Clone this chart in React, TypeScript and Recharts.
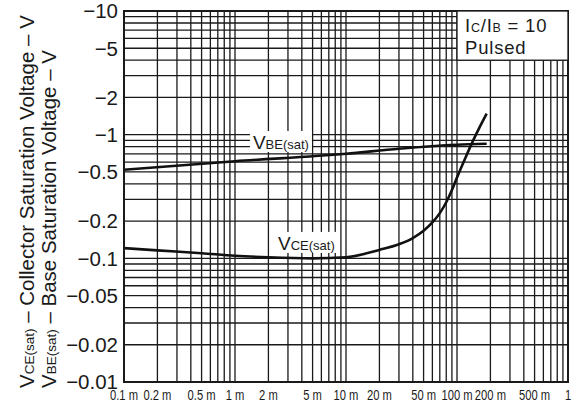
import { LineChart, Line, XAxis, YAxis, CartesianGrid, ReferenceArea, ReferenceDot } from "recharts"

// collector current (A) vs |V| (V)
const vbeCurrent = [0.0001, 0.001, 0.01, 0.03, 0.1, 0.185]
const vbeVoltage = [0.52, 0.61, 0.7, 0.77, 0.83, 0.845]

const vceCurrent = [
  0.0001, 0.0002, 0.0005, 0.001, 0.002, 0.005, 0.01, 0.02, 0.03, 0.04, 0.05, 0.06, 0.07, 0.08, 0.09, 0.1, 0.12,
  0.14, 0.16, 0.185,
]
const vceVoltage = [
  0.121, 0.116, 0.11, 0.105, 0.102, 0.1, 0.102, 0.117, 0.13, 0.146, 0.167, 0.195, 0.232, 0.284, 0.357, 0.451, 0.661,
  0.899, 1.15, 1.48,
]

// grid lines (every log minor division)
const xGrid = [
  0.0001, 0.0002, 0.0003, 0.0004, 0.0005, 0.0006, 0.0007, 0.0008, 0.0009,
  0.001, 0.002, 0.003, 0.004, 0.005, 0.006, 0.007, 0.008, 0.009,
  0.01, 0.02, 0.03, 0.04, 0.05, 0.06, 0.07, 0.08, 0.09,
  0.1, 0.2, 0.3, 0.4, 0.5, 0.6, 0.7, 0.8, 0.9, 1,
]
const yGrid = [
  0.01, 0.02, 0.03, 0.04, 0.05, 0.06, 0.07, 0.08, 0.09,
  0.1, 0.2, 0.3, 0.4, 0.5, 0.6, 0.7, 0.8, 0.9,
  1, 2, 3, 4, 5, 6, 7, 8, 9, 10,
]

const xLabelValues = [0.0001, 0.0002, 0.0005, 0.001, 0.002, 0.005, 0.01, 0.02, 0.05, 0.1, 0.2, 0.5, 1]
const xLabels = ["0.1 m", "0.2 m", "0.5 m", "1 m", "2 m", "5 m", "10 m", "20 m", "50 m", "100 m", "200 m", "500 m", "1"]
const yLabelValues = [0.01, 0.02, 0.05, 0.1, 0.2, 0.5, 1, 2, 5, 10]
const yLabels = ["−0.01", "−0.02", "−0.05", "−0.1", "−0.2", "−0.5", "−1", "−2", "−5", "−10"]

const vbeData = vbeCurrent.map((i, k) => ({ i, v: vbeVoltage[k] }))
const vceData = vceCurrent.map((i, k) => ({ i, v: vceVoltage[k] }))

const FONT = "'Liberation Sans', Arial, Helvetica, sans-serif"
const INK = "#1a1a1a"

function lookup(vals: number[], labels: string[], v: number) {
  const k = vals.findIndex((a) => Math.abs(a - v) / a < 1e-6)
  return k < 0 ? "" : labels[k]
}

function XTick(props: any) {
  const { x, y, payload } = props
  const s = lookup(xLabelValues, xLabels, payload.value)
  if (!s) return null
  return (
    <text
      transform={`translate(${x},${y}) scale(0.8,1)`}
      dy="0.71em"
      textAnchor="middle"
      fontSize={14}
      fontFamily={FONT}
      fill={INK}
    >
      {s}
    </text>
  )
}

function YTitle(props: any) {
  const vb = props.viewBox || { x: 0, y: 11, width: 124, height: 371 }
  const bottom = vb.y + vb.height + 6
  return (
    <g fontFamily={FONT} fill={INK}>
      <text transform={`translate(${vb.x + 34},${bottom}) rotate(-90)`} fontSize={20.5}>
        V<tspan fontSize={13.5}>CE(sat)</tspan> – Collector Saturation Voltage – V
      </text>
      <text transform={`translate(${vb.x + 56},${bottom}) rotate(-90)`} fontSize={20.5}>
        V<tspan fontSize={13.5}>BE(sat)</tspan> – Base Saturation Voltage – V
      </text>
    </g>
  )
}

// pieces of "IC/IB = 10": [text, size, x offset]
const boxPieces: [string, number, number][] = [
  ["I", 18.5, 0],
  ["C", 12.5, 5.9],
  ["/I", 18.5, 15.7],
  ["B", 12.5, 27.5],
  ["= 10", 18.5, 42.5],
]

function CondBox(props: any) {
  const { x, y, width, height } = props
  return (
    <g fontFamily={FONT} fill={INK} letterSpacing={0.8}>
      <rect x={x} y={y} width={width} height={height} fill="#fff" stroke={INK} strokeWidth={1.3} />
      {boxPieces.map(([s, fs, dx]) => (
        <text key={s} x={x + 8 + dx} y={y + 21} fontSize={fs}>
          {s}
        </text>
      ))}
      <text x={x + 8} y={y + 43} fontSize={18.5}>
        Pulsed
      </text>
    </g>
  )
}

function curveTag(sub: string, w: number) {
  return (props: any) => {
    const { cx, cy } = props
    return (
      <g>
        <rect x={cx - 3} y={cy - 18} width={w} height={21} fill="#fff" />
        <text x={cx} y={cy} fontSize={19} fontFamily={FONT} fill={INK}>
          V<tspan fontSize={13}>{sub}</tspan>
        </text>
      </g>
    )
  }
}

export default function App() {
  return (
    <div>
      <style>{"body{margin:0}"}</style>
      <LineChart width={579} height={410} margin={{ top: 11, right: 11, bottom: 0, left: 0 }}>
        <CartesianGrid stroke={INK} strokeWidth={1.3} strokeDasharray="" />
        <XAxis
          dataKey="i"
          type="number"
          scale="log"
          domain={[0.0001, 1]}
          ticks={xGrid}
          interval={0}
          allowDataOverflow
          height={28}
          tickSize={0}
          tickMargin={8}
          axisLine={{ stroke: INK, strokeWidth: 2 }}
          tick={<XTick />}
        />
        <YAxis
          dataKey="v"
          type="number"
          scale="log"
          domain={[0.01, 10]}
          ticks={yGrid}
          interval={0}
          allowDataOverflow
          width={124}
          tickSize={0}
          tickMargin={6}
          axisLine={{ stroke: INK, strokeWidth: 2 }}
          tick={{ fontSize: 20.5, fill: INK, fontFamily: FONT }}
          tickFormatter={(v: number) => lookup(yLabelValues, yLabels, v)}
          label={{ content: YTitle }}
        />
        <ReferenceArea x1={0.0001} x2={1} y1={0.01} y2={10} fill="none" stroke={INK} strokeWidth={2} ifOverflow="visible" />
        <ReferenceArea x1={0.1} x2={1} y1={4} y2={10} shape={CondBox} ifOverflow="visible" />
        <ReferenceDot x={0.00145} y={0.766} r={0} shape={curveTag("BE(sat)", 62)} ifOverflow="visible" />
        <ReferenceDot x={0.00244} y={0.117} r={0} shape={curveTag("CE(sat)", 62)} ifOverflow="visible" />
        <Line
          data={vbeData}
          dataKey="v"
          type="monotone"
          stroke="#111"
          strokeWidth={2.6}
          dot={false}
          isAnimationActive={false}
        />
        <Line
          data={vceData}
          dataKey="v"
          type="monotone"
          stroke="#111"
          strokeWidth={2.6}
          dot={false}
          isAnimationActive={false}
        />
      </LineChart>
    </div>
  )
}
